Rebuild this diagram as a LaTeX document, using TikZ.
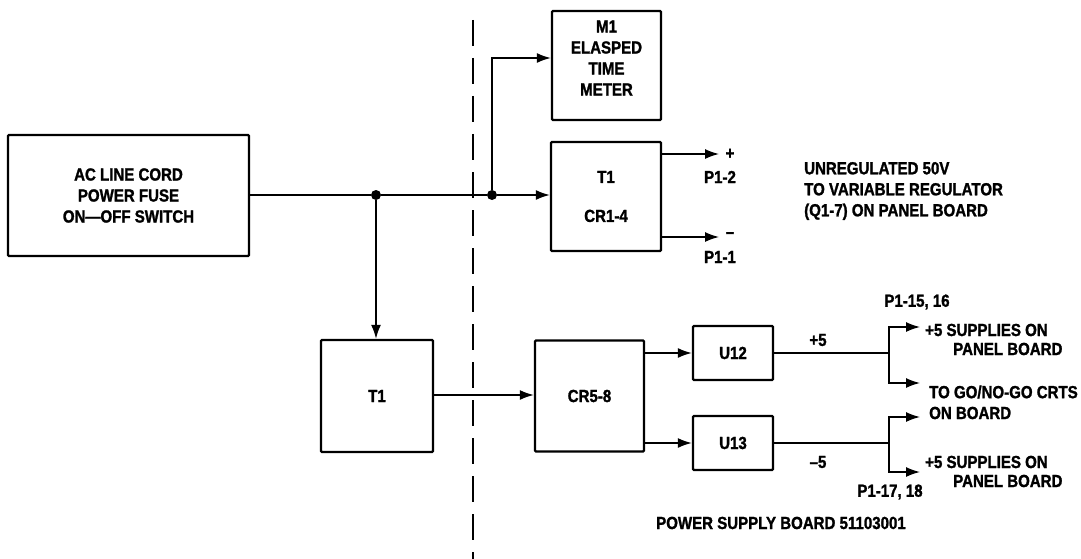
\documentclass[tikz,border=0pt]{standalone}
\usepackage{fontspec}
\newfontfamily\lab[FakeStretch=0.86, FakeBold=1.4]{Liberation Sans}
\usetikzlibrary{arrows.meta}
\begin{document}
\begin{tikzpicture}[x=1pt,y=-1pt,
  every node/.style={font=\lab\bfseries\fontsize{17.5}{21}\selectfont, inner sep=0pt},
  blk/.style={draw, line width=2.4pt, rounded corners=1pt, align=center},
  wire/.style={line width=1.5pt},
  arr/.style={wire, -{Latex[length=14pt,width=10pt]}},
  dot/.style={circle, fill, minimum size=10pt, inner sep=0pt},
  txt/.style={align=left, anchor=west}]
\useasboundingbox (0,0) rectangle (1081,559);
% dashed boundary
\coordinate (dtop) at (473,20);
\coordinate (dbot) at (473,559);
\draw[line width=2pt, dash pattern=on 26pt off 12pt] (dtop) -- (dbot);
% blocks
\node[blk, minimum width=241pt, minimum height=121pt] (ac) at (128.5,195.5) {AC LINE CORD\\POWER FUSE\\ON—OFF SWITCH};
\node[blk, minimum width=109pt, minimum height=109pt] (m1) at (606.5,65.5) {};
\node[align=center] (m1t) at (606.5,58) {M1\\ELASPED\\TIME\\METER};
\node[blk, minimum width=110pt, minimum height=109pt] (t1cr) at (606,196.5) {T1\\[18pt]CR1-4};
\node[blk, minimum width=112pt, minimum height=112pt] (t1b) at (377,396) {T1};
\node[blk, minimum width=109pt, minimum height=111pt] (cr58) at (589.5,396) {CR5-8};
\node[blk, minimum width=80pt, minimum height=54pt] (u12) at (733,353) {U12};
\node[blk, minimum width=80pt, minimum height=54pt] (u13) at (733,443) {U13};
% junctions
\node[dot] (j1) at (376,195) {};
\node[dot] (j2) at (492,195) {};
% main feed
\draw[wire] (ac.east |- j1) -- (j1);
\draw[arr] (j1) -- (j2) -- (t1cr.west |- j2);
\draw[arr] (j1) -- (j1 |- t1b.north);
\draw[arr] (j2) |- ([yshift=7.5pt]m1.west);
% T1 / CR1-4 outputs
\coordinate (p2) at (719,154);
\coordinate (p1) at (719,237);
\draw[arr] (t1cr.east |- p2) -- (p2);
\draw[arr] (t1cr.east |- p1) -- (p1);
\node (plus) at (730,154) {+};
\node (minus) at (730,235) {–};
\node (p12) at (720,177) {P1-2};
\node (p11) at (720,257) {P1-1};
\node[txt] (unreg) at (804,191) {UNREGULATED 50V\\TO VARIABLE REGULATOR\\(Q1-7) ON PANEL BOARD};
% lower chain
\draw[arr] (t1b.east |- 0,395) -- (cr58.west |- 0,395);
\draw[arr] (cr58.east |- u12.west) -- (u12.west);
\draw[arr] (cr58.east |- u13.west) -- (u13.west);
% U12 outputs
\coordinate (b1) at (889,353);
\coordinate (b1t) at (889,327);
\coordinate (b1b) at (889,383);
\coordinate (a1t) at (920,327);
\coordinate (a1b) at (920,383);
\draw[wire] (u12.east) -- (b1);
\draw[arr] (b1) -- (b1t) -- (a1t);
\draw[arr] (b1) -- (b1b) -- (a1b);
\node (plus5) at (818,340) {+5};
% U13 outputs
\coordinate (b2) at (889,443);
\coordinate (b2t) at (889,417);
\coordinate (b2b) at (889,472);
\coordinate (a2t) at (920,417);
\coordinate (a2b) at (920,472);
\draw[wire] (u13.east) -- (b2);
\draw[arr] (b2) -- (b2t) -- (a2t);
\draw[arr] (b2) -- (b2b) -- (a2b);
\node (minus5) at (818,462) {–5};
% right labels
\node (p1516) at (917,302) {P1-15, 16};
\node[txt] (sup1) at (925,330) {+5 SUPPLIES ON};
\node[txt] (pan1) at (953,349) {PANEL BOARD};
\node[txt] (gonogo) at (929,392) {TO GO/NO-GO CRTS};
\node[txt] (onb) at (929,413) {ON BOARD};
\node[txt] (sup2) at (925,462) {+5 SUPPLIES ON};
\node[txt] (pan2) at (953,481) {PANEL BOARD};
\node (p1718) at (890,492) {P1-17, 18};
\node[txt] (psb) at (656,523) {POWER SUPPLY BOARD 51103001};
\end{tikzpicture}
\end{document}
